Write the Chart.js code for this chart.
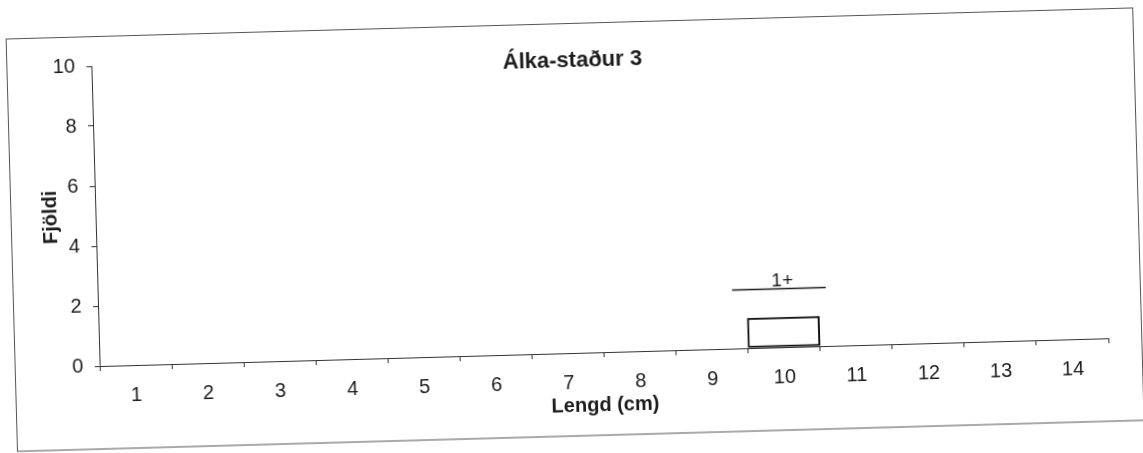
<!DOCTYPE html>
<html>
<head>
<meta charset="utf-8">
<script src="https://cdn.jsdelivr.net/npm/chart.js@4"></script>
<style>
  html, body { margin: 0; padding: 0; background: #ffffff; overflow: hidden; }
  #wrap { position: absolute; left: 0; top: 0; width: 1143px; height: 453px;
          transform: rotate(-1.58deg); transform-origin: 571.5px 226.5px; }
  canvas { display: block; }
</style>
</head>
<body>
<div id="wrap"><canvas id="c" width="1143" height="453"></canvas></div>
<script>
// ---- data ----
const chartTitle = 'Álka-staður 3';
const xTitle = 'Lengd (cm)';
const yTitle = 'Fjöldi';
const categories = ['1','2','3','4','5','6','7','8','9','10','11','12','13','14'];
const counts = [0,0,0,0,0,0,0,0,0,1,0,0,0,0];
const yMin = 0;
const yMax = 10;
const yStep = 2;
// age-group brackets (in cm along the length axis, level in count units)
const groupLabels = ['1+'];
const groupStart = [9.3];
const groupEnd = [10.6];
const groupLevel = [1.95];
const groupLabelAt = ['10'];

const FONT = '"Liberation Sans", Arial, Helvetica, sans-serif';
const INK = '#1c1c1c';

const framePlugin = {
  id: 'frame',
  beforeDraw(chart) {
    const ctx = chart.ctx;
    ctx.save();
    ctx.fillStyle = '#ffffff';
    ctx.fillRect(0, 0, chart.width, chart.height);
    ctx.strokeStyle = '#555555';
    ctx.lineWidth = 1;
    ctx.strokeRect(11.5, 23.5, 1127, 412.5);
    ctx.restore();
  }
};

const groupPlugin = {
  id: 'groups',
  afterDatasetsDraw(chart) {
    const ctx = chart.ctx;
    const xs = chart.scales.x, ys = chart.scales.y;
    ctx.save();
    groupLabels.forEach((lab, i) => {
      const x1 = xs.getPixelForValue(groupStart[i] - 1);
      const x2 = xs.getPixelForValue(groupEnd[i] - 1);
      const y = ys.getPixelForValue(groupLevel[i]);
      ctx.strokeStyle = INK;
      ctx.lineWidth = 1.5;
      ctx.beginPath();
      ctx.moveTo(x1, y);
      ctx.lineTo(x2, y);
      ctx.stroke();
      ctx.fillStyle = INK;
      ctx.font = '19px ' + FONT;
      ctx.textAlign = 'center';
      ctx.textBaseline = 'alphabetic';
      ctx.fillText(lab, xs.getPixelForValue(categories.indexOf(groupLabelAt[i])), y - 3);
    });
    ctx.restore();
  }
};

new Chart(document.getElementById('c'), {
  type: 'bar',
  data: {
    labels: categories,
    datasets: [{
      data: counts,
      backgroundColor: '#ffffff',
      borderColor: '#111111',
      borderWidth: ctx => (ctx.raw > 0 ? 2 : 0),
      borderSkipped: false,
      barPercentage: 1.0,
      categoryPercentage: 1.0
    }]
  },
  options: {
    responsive: false,
    animation: false,
    layout: { padding: { left: 11, right: 0, top: 23, bottom: 17 } },
    plugins: {
      legend: { display: false },
      tooltip: { enabled: false },
      title: {
        display: true,
        text: chartTitle,
        color: INK,
        font: { family: FONT, size: 22, weight: 'bold', lineHeight: 1.2 },
        padding: { top: 25, bottom: -21.4 }
      }
    },
    scales: {
      x: {
        offset: true,
        grid: { display: true, offset: true, drawOnChartArea: false, drawTicks: true,
                tickLength: 5, color: '#333333', lineWidth: 1 },
        border: { display: true, color: '#333333', width: 1 },
        ticks: { color: INK, padding: 13, maxRotation: 0, autoSkip: false,
                 font: { family: FONT, size: 20, lineHeight: 1.2 } },
        title: { display: true, text: xTitle, color: INK,
                 font: { family: FONT, size: 20, weight: 'bold', lineHeight: 1.2 },
                 padding: { top: 0, bottom: 18 } },
        afterFit(s) { s.height = 83; }
      },
      y: {
        min: yMin, max: yMax,
        grid: { display: true, drawOnChartArea: false, drawTicks: true,
                tickLength: 5, color: '#333333', lineWidth: 1 },
        border: { display: true, color: '#333333', width: 1 },
        ticks: { stepSize: yStep, color: INK, padding: 11.5,
                 font: { family: FONT, size: 20, lineHeight: 1.2 } },
        title: { display: true, text: yTitle, color: INK,
                 font: { family: FONT, size: 20, weight: 'bold', lineHeight: 1.2 },
                 padding: { top: 28.5, bottom: 0 } },
        afterFit(s) { s.width = 85; }
      },
      yRightSpace: {
        position: 'right',
        display: true,
        grid: { display: false },
        border: { display: false },
        ticks: { display: false },
        title: { display: false },
        afterFit(s) { s.width = 38; }
      }
    }
  },
  plugins: [framePlugin, groupPlugin]
});
</script>
</body>
</html>
